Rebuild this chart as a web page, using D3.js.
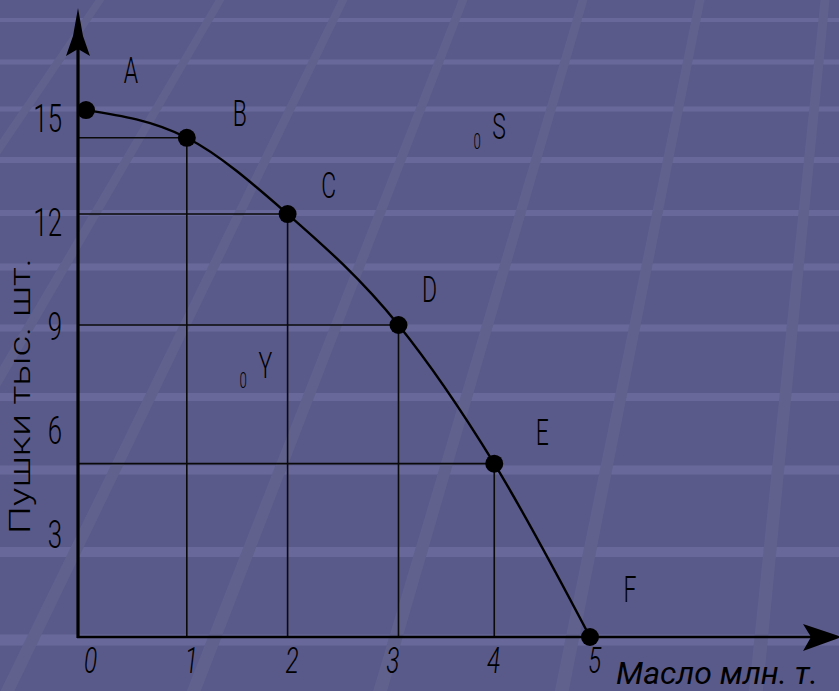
<!DOCTYPE html>
<html>
<head>
<meta charset="utf-8">
<script src="https://cdn.jsdelivr.net/npm/d3@7"></script>
<style>
  html, body { margin: 0; padding: 0; overflow: hidden; background: #5A5A8A; }
  svg { display: block; }
</style>
</head>
<body>
<script>
// ---- data ----
const pointNames = ["A", "B", "C", "D", "E", "F"];
const butter = [0, 1, 2, 3.1, 4.05, 5];          // Масло, млн. т.
const guns = [15.2, 14.4, 12.2, 9, 5, 0];         // Пушки, тыс. шт.
const xTicks = [0, 1, 2, 3, 4, 5];
const yTicks = [3, 6, 9, 12, 15];
const otherNames = ["S", "Y"];
const otherButter = [3.88, 1.56];
const otherGuns = [14.3, 7.4];
const xTitle = "Масло млн. т.";
const yTitle = "Пушки тыс. шт.";

// ---- layout / style ----
const W = 839, H = 691;
const axisX = 78, axisY = 637;
const labelOffsets = [[45, -27], [53, -12], [41, -16], [31, -23], [48, -19], [40, -35]];
const FONT = "Roboto, 'Liberation Sans', sans-serif";

const svg = d3.select("body").append("svg").attr("width", W).attr("height", H);

// background decoration
svg.append("rect").attr("width", W).attr("height", H).attr("fill", "#5A5A8A");
const hStripes = [[20,4],[62,5],[109,5],[160,6],[213,6],[267,7],[328,7],[397,8],[470,9],[552,10],[640,11]];
svg.append("g").selectAll("rect").data(hStripes).join("rect")
  .attr("x", 0).attr("width", W)
  .attr("y", d => d[0] - d[1] / 2).attr("height", d => d[1])
  .attr("fill", "#68689A");
const vp = [950, -1250], dTops = [100, 220, 343, 463, 583, 700, 825], dw = 9;
const proj = xt => vp[0] + (xt - vp[0]) * (H - vp[1]) / (0 - vp[1]);
svg.append("g").selectAll("polygon").data(dTops).join("polygon")
  .attr("points", d => {
    const a = d - dw / 2, b = d + dw / 2;
    return `${a},0 ${b},0 ${proj(b)},${H} ${proj(a)},${H}`;
  })
  .attr("fill", "#61618D");

// scales
const x = d3.scaleLinear().domain([0, 5]).range([86, 590]);
const y = d3.scaleLinear().domain([0, 15]).range([axisY, 117]);

const pts = pointNames.map((n, i) => ({ name: n, bx: butter[i], gy: guns[i], off: labelOffsets[i] }));

// drop lines
const g = svg.append("g");
g.selectAll(".hl").data(pts.filter(p => p.gy > 0 && p.bx > 0)).join("line")
  .attr("x1", axisX).attr("x2", p => x(p.bx))
  .attr("y1", p => y(p.gy)).attr("y2", p => y(p.gy))
  .attr("stroke", "#0a0a0a").attr("stroke-width", 1.6);
g.selectAll(".vl").data(pts.filter(p => p.gy > 0 && p.bx > 0)).join("line")
  .attr("x1", p => x(p.bx)).attr("x2", p => x(p.bx))
  .attr("y1", p => y(p.gy)).attr("y2", axisY)
  .attr("stroke", "#0a0a0a").attr("stroke-width", 1.6);

// axes lines + arrows
g.append("line").attr("x1", axisX).attr("x2", axisX).attr("y1", axisY + 1).attr("y2", 30)
  .attr("stroke", "#000").attr("stroke-width", 3.2);
g.append("path").attr("d", `M${axisX},8 L${axisX-5},36 L${axisX-12},56 L${axisX},49 L${axisX+12},56 L${axisX+5},36 Z`)
  .attr("fill", "#000");
g.append("line").attr("x1", axisX - 1).attr("x2", 815).attr("y1", axisY).attr("y2", axisY)
  .attr("stroke", "#000").attr("stroke-width", 2.4);
g.append("path").attr("d", `M842,${axisY} L803,${axisY-13} L811,${axisY} L803,${axisY+14} Z`)
  .attr("fill", "#000");

// curve
g.append("path").datum(pts)
  .attr("d", d3.line().x(p => x(p.bx)).y(p => y(p.gy)).curve(d3.curveMonotoneX))
  .attr("fill", "none").attr("stroke", "#000").attr("stroke-width", 2.4);

// dots
g.selectAll(".dot").data(pts).join("circle")
  .attr("cx", p => x(p.bx)).attr("cy", p => y(p.gy)).attr("r", 9).attr("fill", "#000");

// axis ticks via d3 axes
const sx = 0.68;
const yAxis = svg.append("g").attr("transform", `translate(${axisX},0)`)
  .call(d3.axisLeft(y).tickValues(yTicks).tickSize(0).tickFormat(d3.format("d")));
yAxis.select(".domain").remove();
yAxis.selectAll("text")
  .attr("x", -16 / sx).attr("y", 14).attr("dy", 0)
  .attr("transform", `scale(${sx},1)`)
  .attr("text-anchor", "end")
  .style("font-family", FONT).style("font-weight", 300).style("font-size", "38px").attr("fill", "#000");

const xAxis = svg.append("g").attr("transform", `translate(0,${axisY})`)
  .call(d3.axisBottom(x).tickValues(xTicks).tickSize(0).tickFormat(d3.format("d")));
xAxis.select(".domain").remove();
xAxis.selectAll(".tick").each(function() {
  const t = d3.select(this);
  const m = /translate\(([-\d.]+)/.exec(t.attr("transform"));
  t.attr("transform", `translate(${+m[1] + 4},0)`);
});
xAxis.selectAll("text")
  .attr("y", 36).attr("dy", 0).attr("x", 0)
  .attr("transform", `scale(${sx},1)`)
  .attr("text-anchor", "middle")
  .style("font-family", FONT).style("font-weight", 300).style("font-style", "italic")
  .style("font-size", "36px").attr("fill", "#000");

// point letters
svg.append("g").selectAll("text").data(pts).join("text")
  .attr("transform", p => `translate(${x(p.bx) + p.off[0]},${y(p.gy) + p.off[1]}) scale(0.62,1)`)
  .attr("text-anchor", "middle")
  .style("font-family", FONT).style("font-weight", 300).style("font-size", "37px")
  .attr("fill", "#000")
  .text(p => p.name);

// other points (S, Y)
const others = otherNames.map((n, i) => ({ name: n, bx: otherButter[i], gy: otherGuns[i] }));
const og = svg.append("g").selectAll("g").data(others).join("g")
  .attr("transform", p => `translate(${x(p.bx)},${y(p.gy)})`);
og.append("text").attr("transform", "translate(0,8) scale(0.6,1)")
  .attr("text-anchor", "middle")
  .style("font-family", FONT).style("font-weight", 300).style("font-size", "22px")
  .attr("fill", "#000").text("0");
og.append("text").attr("transform", "translate(22,-2) scale(0.62,1)")
  .attr("text-anchor", "middle")
  .style("font-family", FONT).style("font-weight", 300).style("font-size", "37px")
  .attr("fill", "#000").text(p => p.name);

// axis titles
svg.append("text")
  .attr("transform", "translate(30,396) rotate(-90)")
  .attr("text-anchor", "middle")
  .attr("textLength", 276).attr("lengthAdjust", "spacingAndGlyphs")
  .style("font-family", FONT).style("font-weight", 300).style("font-size", "30px")
  .attr("fill", "#000").text(yTitle);
svg.append("text")
  .attr("x", 616).attr("y", 684)
  .attr("textLength", 202).attr("lengthAdjust", "spacingAndGlyphs")
  .style("font-family", FONT).style("font-weight", 400).style("font-style", "italic").style("font-size", "32px")
  .attr("fill", "#000").text(xTitle);
</script>
</body>
</html>
